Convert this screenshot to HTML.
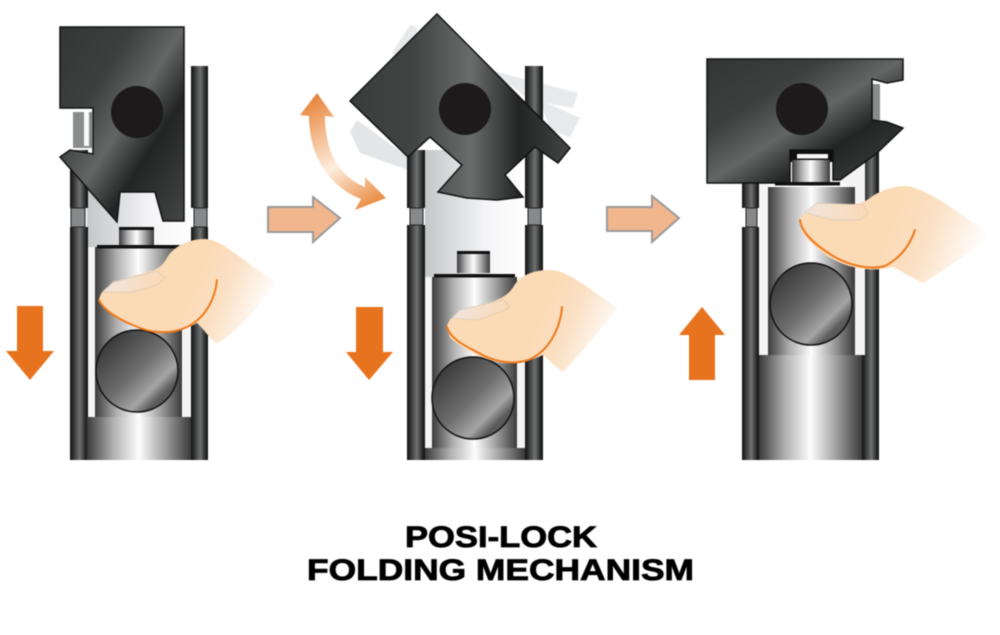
<!DOCTYPE html>
<html>
<head>
<meta charset="utf-8">
<style>
html,body{margin:0;padding:0;background:#fff;width:1000px;height:635px;overflow:hidden}
svg{display:block;filter:blur(.45px)}
text{font-family:"Liberation Sans",Arial,sans-serif;font-weight:bold;fill:#000;stroke:#000;stroke-width:.8px}
</style>
</head>
<body>
<svg width="1000" height="635" viewBox="0 0 1000 635" xmlns="http://www.w3.org/2000/svg">
<defs>
<linearGradient id="rail" x1="0" x2="1" y1="0" y2="0"><stop offset="0" stop-color="#111"/><stop offset=".15" stop-color="#2a2a2a"/><stop offset=".55" stop-color="#707272"/><stop offset=".85" stop-color="#2a2a2a"/><stop offset="1" stop-color="#111"/></linearGradient>
<linearGradient id="cyl" x1="0" x2="1" y1="0" y2="0"><stop offset="0" stop-color="#3a3a3a"/><stop offset=".25" stop-color="#b0b0b0"/><stop offset=".5" stop-color="#fdfdfd"/><stop offset=".75" stop-color="#a0a0a0"/><stop offset="1" stop-color="#3a3a3a"/></linearGradient>
<linearGradient id="block" x1="0" y1="0" x2="1" y2="1"><stop offset="0" stop-color="#343636"/><stop offset=".3" stop-color="#3e4040"/><stop offset=".5" stop-color="#646666"/><stop offset=".68" stop-color="#232424"/><stop offset="1" stop-color="#444646"/></linearGradient>
<linearGradient id="block2" x1="0" y1="0" x2="1" y2="0"><stop offset="0" stop-color="#3a3c3c"/><stop offset=".3" stop-color="#434545"/><stop offset=".55" stop-color="#6a6c6c"/><stop offset=".77" stop-color="#232424"/><stop offset="1" stop-color="#444646"/></linearGradient>
<linearGradient id="ball" x1="0" y1="0" x2="1" y2="1"><stop offset="0" stop-color="#262626"/><stop offset=".5" stop-color="#6e6e6e"/><stop offset=".7" stop-color="#a5a5a5"/><stop offset=".8" stop-color="#5c5c5c"/><stop offset="1" stop-color="#444"/></linearGradient>
<linearGradient id="light" x1="0" x2="1" y1="0" y2="0"><stop offset="0" stop-color="#c4c6c8"/><stop offset=".6" stop-color="#f4f4f6"/><stop offset="1" stop-color="#fff"/></linearGradient>
<linearGradient id="h1" gradientUnits="userSpaceOnUse" x1="200" y1="270" x2="272" y2="300"><stop offset="0" stop-color="#fbdab6"/><stop offset=".4" stop-color="#fbe0c4"/><stop offset="1" stop-color="#fff"/></linearGradient>
<linearGradient id="h2" gradientUnits="userSpaceOnUse" x1="548" y1="297" x2="620" y2="327"><stop offset="0" stop-color="#fbdab6"/><stop offset=".4" stop-color="#fbe0c4"/><stop offset="1" stop-color="#fff"/></linearGradient>
<linearGradient id="h3" gradientUnits="userSpaceOnUse" x1="895" y1="210" x2="985" y2="245"><stop offset="0" stop-color="#fbdab6"/><stop offset=".4" stop-color="#fbe0c4"/><stop offset="1" stop-color="#fff"/></linearGradient>
<linearGradient id="nail" x1="0" x2="1" y1="0" y2="0"><stop offset="0" stop-color="#f1e4de"/><stop offset="1" stop-color="#fbdab6"/></linearGradient>
<linearGradient id="curve" gradientUnits="userSpaceOnUse" x1="317" y1="93" x2="385" y2="205"><stop offset="0" stop-color="#e88338"/><stop offset=".55" stop-color="#fdeedd"/><stop offset="1" stop-color="#e8802f"/></linearGradient>
</defs>

<!-- PANEL 1 -->
<rect x="87" y="190" width="104" height="60" fill="url(#light)"/>
<rect x="70" y="150" width="18" height="58" fill="url(#rail)"/>
<rect x="70" y="227" width="18" height="233" fill="url(#rail)"/>
<rect x="191" y="66" width="17" height="142" fill="url(#rail)"/>
<rect x="191" y="227" width="17" height="233" fill="url(#rail)"/>
<rect x="71" y="208" width="14" height="19" fill="#87898a" stroke="#222" stroke-width="1"/>
<rect x="194" y="208" width="13" height="19" fill="#87898a" stroke="#222" stroke-width="1"/>
<rect x="88" y="247" width="7" height="172" fill="#f4f4f4"/>
<rect x="183" y="247" width="8" height="172" fill="#f4f4f4"/>
<rect x="119" y="228" width="35" height="19" fill="url(#cyl)"/>
<rect x="119" y="227" width="35" height="3" fill="#111"/>
<rect x="95" y="247" width="87" height="172" fill="url(#cyl)"/>
<rect x="97" y="245" width="83" height="3.5" fill="#111"/>
<rect x="87" y="417" width="104" height="43" fill="url(#cyl)"/>
<rect x="73" y="112" width="19" height="36" fill="#8a8c8c"/>
<rect x="84" y="112" width="5" height="34" fill="#fafafa"/>
<polygon points="60,27 184,27 184,221 163,221 155,192 120,192 117,222 60,157 70,150 93,154 93,108 60,108" fill="url(#block)" stroke="#111" stroke-width="1.5"/>
<circle cx="137" cy="112" r="26" fill="#1c1a1b"/>
<circle cx="137" cy="371" r="41" fill="url(#ball)" stroke="#111" stroke-width="1.5"/>
<path d="M99,300 C101,288 112,283 133,276 C150,271 160,272 168,256 C176,245 190,239 205,239 C222,240 235,255 277,283 C255,310 235,335 217,343 C210,340 205,330 197,323 C185,330 170,334 157,333 C135,330 115,318 100,303 Z" fill="url(#h1)"/>
<polygon points="103,292 113,282 157,271 165,278 157,285 133,292" fill="url(#nail)" stroke="#d5c6b4" stroke-width="1" stroke-dasharray="2 1"/>
<path d="M99,300 C103,310 120,320 135,326 C150,333 170,335 187,327 C205,318 215,300 217,280" fill="none" stroke="#ee7a1c" stroke-width="2" stroke-linecap="round"/>
<polygon points="17,306 43,306 43,351 54,351 30,380 6,351 17,351" fill="#e8731e"/>

<!-- Peach arrow 1 -->
<polygon points="268,207 313,207 313,197 340,218 313,242 313,232 268,232" fill="#f1b68d" stroke="#9a9a9a" stroke-width="2"/>

<!-- Curved arrow -->
<path d="M317,93 L334,117 L325,116 C325,150 338,176 365,187 L365,177 L386,198 L355,210 L361,199 C328,186 309,155 309,116 L300,115 Z" fill="url(#curve)"/>

<!-- PANEL 2 -->
<polygon points="392,53 410,25 418,28 403,60" fill="#e8e9eb"/>
<polygon points="490,70 578,93 573,108 530,100" fill="#e8e9eb"/>
<polygon points="540,100 580,118 570,137 550,130" fill="#e8e9eb"/>
<polygon points="350,132 357,120 408,157 408,170 360,153" fill="#e4e5e7"/>
<rect x="425" y="150" width="100" height="130" fill="url(#light)"/>
<rect x="407" y="150" width="18" height="58" fill="url(#rail)"/>
<rect x="407" y="225" width="18" height="235" fill="url(#rail)"/>
<rect x="525" y="66" width="18" height="142" fill="url(#rail)"/>
<rect x="525" y="225" width="18" height="235" fill="url(#rail)"/>
<rect x="410" y="208" width="13" height="17" fill="#87898a" stroke="#222" stroke-width="1"/>
<rect x="528" y="208" width="13" height="17" fill="#87898a" stroke="#222" stroke-width="1"/>
<rect x="425" y="277" width="7" height="172" fill="#f4f4f4"/>
<rect x="517" y="277" width="8" height="172" fill="#f4f4f4"/>
<rect x="457" y="252" width="33" height="21" fill="url(#cyl)"/>
<rect x="457" y="251" width="33" height="3" fill="#111"/>
<rect x="432" y="277" width="85" height="172" fill="url(#cyl)"/>
<rect x="434" y="274" width="81" height="3.5" fill="#111"/>
<rect x="425" y="448" width="100" height="12" fill="url(#cyl)"/>
<polygon points="437,14 570,148 558,163 535,147 505,175 523,197 497,200 467,198 438,192 462,165 430,137 408,157 350,101" fill="url(#block2)" stroke="#111" stroke-width="1.5"/>
<circle cx="465" cy="109" r="26" fill="#1c1a1b"/>
<circle cx="473" cy="398" r="41" fill="url(#ball)" stroke="#111" stroke-width="1.5"/>
<path d="M447,327 C449,316 460,310 477,306 C495,301 508,298 515,284 C523,274 535,270 550,270 C565,270 580,282 618,308 C600,330 580,355 563,372 C556,368 550,360 543,355 C530,361 515,364 503,363 C483,360 465,350 450,338 Z" fill="url(#h2)"/>
<polygon points="452,318 460,310 503,300 510,307 500,312 477,320" fill="url(#nail)" stroke="#d5c6b4" stroke-width="1" stroke-dasharray="2 1"/>
<path d="M447,327 C450,338 463,345 477,352 C490,360 510,366 528,360 C548,352 560,330 562,307" fill="none" stroke="#ee7a1c" stroke-width="2" stroke-linecap="round"/>
<polygon points="356,307 383,307 383,352 393,352 369,380 346,352 356,352" fill="#e8731e"/>

<!-- Peach arrow 2 -->
<polygon points="607,207 652,207 652,196 679,218 652,242 652,231 607,231" fill="#f1b68d" stroke="#9a9a9a" stroke-width="2"/>

<!-- PANEL 3 -->
<rect x="742" y="180" width="17" height="28" fill="url(#rail)"/>
<rect x="742" y="227" width="17" height="233" fill="url(#rail)"/>
<rect x="862" y="150" width="17" height="310" fill="url(#rail)"/>
<rect x="746" y="208" width="11" height="19" fill="#87898a" stroke="#222" stroke-width="1"/>
<rect x="759" y="183" width="9" height="172" fill="#f4f4f4"/>
<polygon points="838,180 865,160 865,355 855,355 855,190" fill="#f4f4f4"/>
<rect x="768" y="187" width="87" height="170" fill="url(#cyl)"/>
<rect x="759" y="355" width="103" height="105" fill="url(#cyl)"/>
<rect x="872" y="84" width="8" height="36" fill="#8a8c8c"/>
<polygon points="707,59 903,59 903,80 887,83 872,79 872,120 887,122 903,128 877,153 840,180 833,180 833,150 790,150 790,183 707,183" fill="url(#block)" stroke="#111" stroke-width="1.5"/>
<rect x="790" y="150" width="43" height="12" fill="#0f0f0f"/>
<rect x="797" y="154" width="31" height="4.5" fill="#f6f6f6"/>
<rect x="792" y="160" width="38" height="24" fill="url(#cyl)"/>
<rect x="775" y="182" width="65" height="3.5" fill="#111"/>
<circle cx="802" cy="109" r="26" fill="#1c1a1b"/>
<circle cx="811" cy="304" r="41" fill="url(#ball)" stroke="#111" stroke-width="1.5"/>
<path d="M800,220 C802,212 815,205 833,204 C848,204 860,206 870,198 C880,190 895,186 905,186 C920,186 950,205 993,237 C970,250 945,270 923,283 C912,278 903,272 893,267 C880,270 868,270 858,268 C835,264 815,250 802,232 Z" fill="url(#h3)"/>
<polygon points="805,212 817,203 863,205 868,213 860,220 833,220 813,215" fill="url(#nail)" stroke="#d5c6b4" stroke-width="1" stroke-dasharray="2 1"/>
<path d="M800,220 C801,232 815,245 833,256 C850,266 870,270 885,266 C900,258 910,245 915,230" fill="none" stroke="#ee7a1c" stroke-width="2" stroke-linecap="round"/>
<polygon points="702,307 725,335 715,335 715,380 689,380 689,335 679,335" fill="#e8731e"/>

<!-- Title -->
<text x="405" y="547" font-size="30" textLength="192" lengthAdjust="spacingAndGlyphs">POSI-LOCK</text>
<text x="307" y="580" font-size="30" textLength="387" lengthAdjust="spacingAndGlyphs">FOLDING MECHANISM</text>
</svg>
</body>
</html>
